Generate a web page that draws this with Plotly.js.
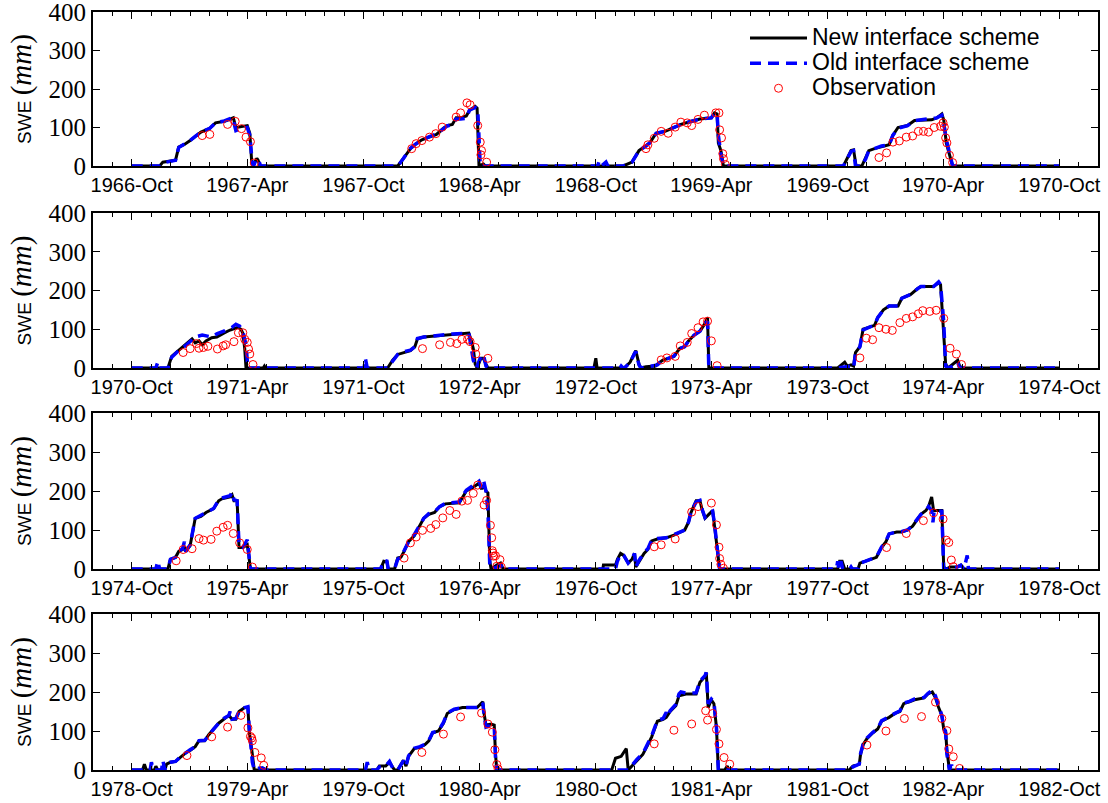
<!DOCTYPE html>
<html><head><meta charset="utf-8">
<script src="https://cdn.plot.ly/plotly-3.0.1.min.js"></script>
<style>html,body{margin:0;padding:0;background:#fff}</style>
</head><body><div id="chart" style="width:1108px;height:803px"></div>
<script>
// ---- DATA (date, SWE mm) ----
const newScheme = [
['1966-10-01',0],['1966-11-14',0],['1966-11-19',10],['1966-12-09',15],['1966-12-14',49],['1966-12-23',56],['1967-01-01',66],['1967-01-09',77],['1967-01-18',88],['1967-02-01',98],['1967-02-10',112],['1967-02-24',116],['1967-03-05',122],['1967-03-10',125],['1967-03-14',100],['1967-03-22',102],['1967-04-01',105],['1967-04-05',85],['1967-04-08',10],['1967-04-10',0],['1967-04-16',20],['1967-04-18',15],['1967-04-21',0],
['1967-11-24',0],['1967-11-28',10],['1967-12-03',20],['1967-12-14',45],['1967-12-23',58],['1968-01-01',68],['1968-01-12',75],['1968-01-24',82],['1968-02-04',98],['1968-02-10',105],['1968-02-18',108],['1968-02-24',125],['1968-03-02',125],['1968-03-11',130],['1968-03-16',145],['1968-03-25',155],['1968-03-28',150],['1968-03-31',0],['1968-04-07',5],['1968-04-10',0],
['1968-11-13',0],['1968-11-27',10],['1968-12-08',40],['1968-12-19',52],['1968-12-25',60],['1969-01-04',85],['1969-01-18',90],['1969-02-01',100],['1969-02-12',108],['1969-02-26',115],['1969-03-14',122],['1969-04-01',125],['1969-04-06',138],['1969-04-10',135],['1969-04-12',60],['1969-04-16',40],['1969-04-20',0],
['1969-10-26',0],['1969-11-07',40],['1969-11-11',42],['1969-11-15',0],['1969-11-24',0],['1969-11-30',20],['1969-12-05',40],['1969-12-14',45],['1969-12-25',50],['1970-01-06',55],['1970-01-12',80],['1970-01-20',100],['1970-02-04',105],['1970-02-15',118],['1970-03-14',120],['1970-03-22',125],['1970-03-30',135],['1970-04-02',120],['1970-04-06',60],['1970-04-12',20],['1970-04-16',0],
['1970-10-01',0],
['1970-11-27',0],['1970-12-03',30],['1970-12-14',45],['1970-12-25',60],['1971-01-04',75],['1971-01-09',65],['1971-01-15',70],['1971-01-20',60],['1971-01-26',70],['1971-02-04',78],['1971-02-12',80],['1971-02-23',90],['1971-03-05',98],['1971-03-17',105],['1971-03-22',100],['1971-03-25',90],['1971-03-28',50],['1971-03-30',0],['1971-04-26',0],['1971-04-28',5],['1971-04-30',0],
['1971-11-08',0],['1971-11-16',20],['1971-11-24',35],['1971-12-03',40],['1971-12-14',45],['1971-12-21',55],['1971-12-25',75],['1972-01-04',80],['1972-01-26',83],['1972-02-18',88],['1972-03-15',90],['1972-03-19',70],['1972-03-22',50],['1972-03-25',10],['1972-03-28',0],['1972-04-03',25],['1972-04-07',25],['1972-04-11',10],['1972-04-14',0],
['1972-09-28',0],['1972-10-01',25],['1972-10-03',0],['1972-11-15',0],['1972-11-24',15],['1972-12-01',40],['1972-12-03',45],['1972-12-08',10],['1972-12-11',0],['1972-12-19',3],['1973-01-03',5],['1973-01-06',10],['1973-01-14',20],['1973-01-23',25],['1973-02-01',30],['1973-02-10',50],['1973-02-18',55],['1973-02-24',70],['1973-03-05',85],['1973-03-14',95],['1973-03-22',115],['1973-03-26',130],['1973-03-28',0],
['1973-10-17',0],['1973-10-28',15],['1973-11-01',5],['1973-11-07',8],['1973-11-11',5],['1973-11-14',40],['1973-11-21',55],['1973-11-26',100],['1973-12-05',105],['1973-12-14',110],['1973-12-19',130],['1973-12-28',150],['1974-01-06',160],['1974-01-20',160],['1974-01-26',180],['1974-02-09',190],['1974-02-20',205],['1974-02-25',210],['1974-03-17',210],['1974-03-25',220],['1974-03-28',215],['1974-04-02',100],['1974-04-05',10],['1974-04-09',0],['1974-04-17',10],['1974-04-24',20],['1974-04-27',5],['1974-05-01',0],
['1974-10-01',0],
['1974-11-27',0],['1974-12-01',25],['1974-12-09',30],['1974-12-14',45],['1974-12-20',50],['1974-12-23',55],['1974-12-25',45],['1975-01-01',60],['1975-01-09',130],['1975-01-18',135],['1975-01-26',145],['1975-02-07',155],['1975-02-15',175],['1975-02-20',180],['1975-03-05',185],['1975-03-08',190],['1975-03-11',175],['1975-03-16',175],['1975-03-19',55],['1975-03-25',55],['1975-04-01',62],['1975-04-03',40],['1975-04-06',0],
['1975-10-28',0],['1975-11-02',20],['1975-11-07',18],['1975-11-09',0],['1975-11-19',0],['1975-11-24',28],['1975-11-29',30],['1975-12-04',45],['1975-12-11',70],['1975-12-20',85],['1975-12-25',100],['1976-01-04',130],['1976-01-12',140],['1976-01-21',145],['1976-01-29',160],['1976-02-07',167],['1976-02-29',170],['1976-03-05',185],['1976-03-11',200],['1976-03-22',210],['1976-03-31',220],['1976-04-04',205],['1976-04-07',215],['1976-04-11',200],['1976-04-14',195],['1976-04-17',20],['1976-04-19',0],['1976-04-28',10],['1976-05-04',15],['1976-05-08',0],
['1976-10-12',0],['1976-10-13',10],['1976-11-01',10],['1976-11-04',25],['1976-11-09',40],['1976-11-14',35],['1976-11-21',15],['1976-11-27',25],['1976-12-01',40],['1976-12-03',5],['1976-12-08',20],['1976-12-16',40],['1976-12-22',50],['1976-12-28',72],['1977-01-06',77],['1977-01-20',80],['1977-02-01',87],['1977-02-10',95],['1977-02-18',100],['1977-02-24',120],['1977-02-28',145],['1977-03-08',175],['1977-03-14',175],['1977-03-17',155],['1977-03-22',130],['1977-03-28',140],['1977-04-03',150],['1977-04-06',110],['1977-04-10',50],['1977-04-12',20],['1977-04-14',0],
['1977-10-17',0],['1977-10-20',20],['1977-10-24',20],['1977-10-28',0],['1977-11-18',0],['1977-11-21',15],['1977-11-30',20],['1977-12-08',25],['1977-12-17',30],['1977-12-25',55],['1978-01-01',70],['1978-01-06',90],['1978-01-18',95],['1978-01-26',95],['1978-02-04',100],['1978-02-12',110],['1978-02-20',130],['1978-02-25',140],['1978-03-05',150],['1978-03-09',160],['1978-03-14',185],['1978-03-17',150],['1978-03-28',150],['1978-03-30',150],['1978-04-02',5],['1978-04-06',0],['1978-04-12',5],['1978-04-23',5],['1978-04-29',10],['1978-05-01',5],['1978-05-04',0],
['1978-10-01',0],
['1978-10-18',0],['1978-10-21',15],['1978-10-24',0],['1978-11-06',0],['1978-11-08',10],['1978-11-11',0],['1978-11-22',0],['1978-11-25',15],['1978-12-01',20],['1978-12-09',22],['1978-12-18',35],['1978-12-26',45],['1979-01-01',50],['1979-01-09',60],['1979-01-15',75],['1979-01-24',75],['1979-01-30',90],['1979-02-07',105],['1979-02-15',120],['1979-02-23',130],['1979-03-03',140],['1979-03-08',130],['1979-03-14',130],['1979-03-19',150],['1979-03-28',160],['1979-04-02',160],['1979-04-04',100],['1979-04-09',40],['1979-04-12',0],['1979-04-20',0],['1979-04-25',5],['1979-05-01',0],
['1979-10-22',0],['1979-10-26',10],['1979-11-05',10],['1979-11-11',20],['1979-11-16',5],['1979-11-19',0],['1979-11-24',0],['1979-12-03',25],['1979-12-07',10],['1979-12-11',35],['1979-12-20',55],['1979-12-29',58],['1980-01-06',65],['1980-01-12',75],['1980-01-18',95],['1980-01-27',100],['1980-02-04',120],['1980-02-10',145],['1980-02-21',155],['1980-03-05',160],['1980-03-28',160],['1980-04-06',175],['1980-04-08',145],['1980-04-11',115],['1980-04-19',118],['1980-04-24',115],['1980-04-26',40],['1980-04-28',0],
['1980-10-26',0],['1980-11-01',30],['1980-11-10',35],['1980-11-15',50],['1980-11-18',55],['1980-11-21',0],['1980-11-27',10],['1980-12-05',25],['1980-12-14',40],['1980-12-22',65],['1980-12-28',85],['1981-01-06',125],['1981-01-15',130],['1981-01-20',135],['1981-01-26',150],['1981-02-04',165],['1981-02-09',190],['1981-02-20',195],['1981-03-08',195],['1981-03-14',225],['1981-03-22',240],['1981-03-24',250],['1981-03-27',160],['1981-04-01',180],['1981-04-05',170],['1981-04-09',110],['1981-04-12',0],['1981-04-22',0],['1981-04-26',10],['1981-04-29',0],
['1981-11-04',0],['1981-11-10',10],['1981-11-20',15],['1981-11-22',40],['1981-11-26',65],['1981-12-02',80],['1981-12-11',95],['1981-12-19',105],['1981-12-25',125],['1982-01-06',135],['1982-01-15',145],['1982-01-23',150],['1982-01-29',170],['1982-02-07',175],['1982-02-15',180],['1982-03-02',185],['1982-03-08',195],['1982-03-15',200],['1982-03-20',185],['1982-03-25',160],['1982-03-30',140],['1982-04-02',105],['1982-04-05',100],['1982-04-07',50],['1982-04-11',0],
['1982-10-01',0]
];

const oldScheme = [
['1966-10-01',0],['1966-11-14',0],['1966-11-19',8],['1966-12-09',15],['1966-12-14',48],['1966-12-23',56],['1967-01-01',66],['1967-01-09',77],['1967-01-18',88],['1967-02-01',98],['1967-02-10',112],['1967-02-24',117],['1967-03-05',123],['1967-03-09',126],['1967-03-14',92],['1967-03-22',98],['1967-04-01',100],['1967-04-05',80],['1967-04-09',5],['1967-04-11',0],['1967-04-15',18],['1967-04-19',15],['1967-04-22',0],
['1967-11-24',0],['1967-11-28',8],['1967-12-03',20],['1967-12-14',46],['1967-12-23',58],['1968-01-01',67],['1968-01-12',76],['1968-01-24',83],['1968-02-04',98],['1968-02-10',104],['1968-02-18',108],['1968-02-24',122],['1968-03-02',122],['1968-03-11',124],['1968-03-16',145],['1968-03-25',152],['1968-03-29',148],['1968-04-02',0],
['1968-10-04',0],['1968-10-06',12],['1968-10-10',0],['1968-10-17',10],['1968-10-20',0],['1968-10-27',8],['1968-10-31',0],['1968-11-13',0],['1968-11-27',10],['1968-12-08',40],['1968-12-19',52],['1968-12-25',60],['1969-01-04',85],['1969-01-18',90],['1969-02-01',100],['1969-02-12',108],['1969-02-26',115],['1969-03-14',122],['1969-04-01',125],['1969-04-06',138],['1969-04-10',136],['1969-04-12',80],['1969-04-16',30],['1969-04-20',0],
['1969-10-26',0],['1969-11-07',38],['1969-11-11',40],['1969-11-14',0],['1969-11-24',0],['1969-11-30',18],['1969-12-05',40],['1969-12-14',45],['1969-12-25',52],['1970-01-06',55],['1970-01-12',80],['1970-01-20',98],['1970-02-04',105],['1970-02-15',118],['1970-03-14',122],['1970-03-22',125],['1970-03-30',132],['1970-04-02',110],['1970-04-06',70],['1970-04-12',25],['1970-04-16',0],
['1970-10-01',0],
['1970-11-08',0],['1970-11-11',15],['1970-11-14',0],['1970-11-27',0],['1970-12-03',28],['1970-12-14',45],['1970-12-25',58],['1971-01-09',80],['1971-01-20',85],['1971-02-04',80],['1971-02-12',88],['1971-02-23',95],['1971-03-08',105],['1971-03-14',113],['1971-03-20',108],['1971-03-25',95],['1971-03-30',60],['1971-04-02',0],
['1971-10-02',0],['1971-10-04',25],['1971-10-07',0],['1971-11-08',0],['1971-11-16',18],['1971-11-24',35],['1971-12-03',42],['1971-12-14',46],['1971-12-21',55],['1971-12-25',76],['1972-01-04',80],['1972-01-26',84],['1972-02-18',88],['1972-03-15',90],['1972-03-18',60],['1972-03-22',20],['1972-03-27',0],['1972-04-03',30],['1972-04-07',35],['1972-04-11',5],['1972-04-14',0],
['1972-11-08',0],['1972-11-10',5],['1972-11-13',0],['1972-11-15',0],['1972-11-24',14],['1972-12-01',38],['1972-12-03',43],['1972-12-08',8],['1972-12-11',0],['1973-01-06',8],['1973-01-14',20],['1973-01-23',25],['1973-02-01',30],['1973-02-10',50],['1973-02-18',55],['1973-02-24',70],['1973-03-05',85],['1973-03-14',95],['1973-03-22',115],['1973-03-26',120],['1973-03-28',0],
['1973-10-17',0],['1973-11-07',5],['1973-11-11',0],['1973-11-14',38],['1973-11-21',55],['1973-11-26',98],['1973-12-05',105],['1973-12-14',110],['1973-12-19',130],['1973-12-28',150],['1974-01-06',160],['1974-01-20',160],['1974-01-26',180],['1974-02-09',190],['1974-02-20',205],['1974-02-25',210],['1974-03-17',210],['1974-03-25',222],['1974-03-28',215],['1974-04-02',120],['1974-04-05',5],['1974-04-09',0],['1974-04-17',5],['1974-04-24',15],['1974-04-27',0],
['1974-10-01',0],
['1974-11-08',0],['1974-11-11',20],['1974-11-14',0],['1974-11-27',0],['1974-12-01',25],['1974-12-09',30],['1974-12-14',45],['1974-12-20',52],['1974-12-23',70],['1974-12-25',45],['1975-01-01',62],['1975-01-09',130],['1975-01-18',137],['1975-01-26',145],['1975-02-07',155],['1975-02-15',177],['1975-02-20',182],['1975-03-05',188],['1975-03-08',197],['1975-03-11',178],['1975-03-16',175],['1975-03-19',60],['1975-03-25',55],['1975-04-01',75],['1975-04-03',40],['1975-04-06',0],
['1975-10-28',0],['1975-11-02',22],['1975-11-07',20],['1975-11-09',0],['1975-11-19',0],['1975-11-24',25],['1975-11-29',30],['1975-12-04',48],['1975-12-11',70],['1975-12-20',88],['1975-12-25',102],['1976-01-04',130],['1976-01-12',142],['1976-01-21',147],['1976-01-29',160],['1976-02-07',168],['1976-02-29',172],['1976-03-05',188],['1976-03-11',202],['1976-03-22',215],['1976-03-31',225],['1976-04-04',208],['1976-04-07',228],['1976-04-11',200],['1976-04-14',150],['1976-04-17',10],['1976-04-19',0],['1976-04-28',5],['1976-05-04',10],['1976-05-08',0],
['1976-11-01',0],['1976-11-04',20],['1976-11-09',38],['1976-11-14',35],['1976-11-21',15],['1976-11-27',25],['1976-12-01',40],['1976-12-03',5],['1976-12-08',22],['1976-12-16',42],['1976-12-22',52],['1976-12-28',74],['1977-01-06',78],['1977-01-20',80],['1977-02-01',88],['1977-02-10',96],['1977-02-18',100],['1977-02-24',120],['1977-02-28',147],['1977-03-08',172],['1977-03-14',176],['1977-03-17',155],['1977-03-22',132],['1977-03-28',142],['1977-04-03',148],['1977-04-06',115],['1977-04-10',60],['1977-04-12',15],['1977-04-14',0],
['1977-10-15',0],['1977-10-17',20],['1977-10-19',0],['1977-10-22',20],['1977-10-25',0],['1977-11-05',0],['1977-11-07',5],['1977-11-09',0],['1977-11-18',0],['1977-11-21',15],['1977-11-30',20],['1977-12-08',26],['1977-12-17',31],['1977-12-25',56],['1978-01-01',72],['1978-01-06',90],['1978-01-18',95],['1978-01-26',96],['1978-02-04',100],['1978-02-12',112],['1978-02-20',130],['1978-02-25',140],['1978-03-05',150],['1978-03-09',160],['1978-03-14',150],['1978-03-16',120],['1978-03-18',150],['1978-03-28',150],['1978-03-30',148],['1978-04-02',0],['1978-04-12',0],['1978-04-23',5],['1978-04-29',10],['1978-05-04',0],['1978-05-09',35],['1978-05-11',0],
['1978-10-01',0],
['1978-10-30',0],['1978-11-01',20],['1978-11-04',0],['1978-11-17',0],['1978-11-19',25],['1978-11-22',0],['1978-11-25',15],['1978-12-01',20],['1978-12-09',22],['1978-12-18',36],['1978-12-26',46],['1979-01-01',52],['1979-01-09',60],['1979-01-15',75],['1979-01-24',76],['1979-01-30',90],['1979-02-07',105],['1979-02-15',120],['1979-02-23',132],['1979-03-03',140],['1979-03-05',150],['1979-03-08',130],['1979-03-14',132],['1979-03-19',150],['1979-03-28',160],['1979-04-02',162],['1979-04-04',110],['1979-04-09',20],['1979-04-12',0],['1979-04-20',5],['1979-04-25',5],['1979-05-01',0],
['1979-10-04',0],['1979-10-07',20],['1979-10-10',0],['1979-10-22',0],['1979-10-26',8],['1979-11-05',10],['1979-11-11',22],['1979-11-16',5],['1979-11-19',0],['1979-11-24',0],['1979-12-03',24],['1979-12-07',10],['1979-12-11',36],['1979-12-20',56],['1979-12-29',60],['1980-01-06',66],['1980-01-12',76],['1980-01-18',96],['1980-01-27',100],['1980-02-04',122],['1980-02-10',146],['1980-02-21',156],['1980-03-05',160],['1980-03-28',160],['1980-04-06',172],['1980-04-08',140],['1980-04-11',110],['1980-04-19',115],['1980-04-24',112],['1980-04-26',30],['1980-04-28',0],
['1980-11-21',0],['1980-11-27',12],['1980-12-05',28],['1980-12-14',42],['1980-12-22',68],['1980-12-28',88],['1981-01-06',127],['1981-01-15',132],['1981-01-20',148],['1981-01-22',138],['1981-01-26',152],['1981-02-04',168],['1981-02-09',195],['1981-02-12',200],['1981-02-20',197],['1981-03-08',198],['1981-03-14',228],['1981-03-22',242],['1981-03-24',250],['1981-03-27',170],['1981-04-01',182],['1981-04-05',175],['1981-04-09',110],['1981-04-12',0],
['1981-11-04',0],['1981-11-10',8],['1981-11-20',15],['1981-11-22',42],['1981-11-26',66],['1981-12-02',82],['1981-12-11',96],['1981-12-19',106],['1981-12-25',126],['1982-01-06',136],['1982-01-15',146],['1982-01-23',152],['1982-01-29',172],['1982-02-07',176],['1982-02-15',182],['1982-03-02',186],['1982-03-08',196],['1982-03-15',205],['1982-03-20',190],['1982-03-25',162],['1982-03-30',140],['1982-04-02',110],['1982-04-05',95],['1982-04-07',40],['1982-04-11',0],['1982-04-13',10],['1982-04-15',10],['1982-04-17',0],
['1982-10-01',0]
];

const observation = [
['1967-01-20',79],['1967-02-01',82],['1967-03-01',108],['1967-03-13',116],['1967-03-23',97],['1967-03-30',75],['1967-04-06',63],['1967-04-12',8],
['1967-12-16',45],['1967-12-23',58],['1968-01-01',66],['1968-01-13',75],['1968-01-23',84],['1968-02-02',101],['1968-02-24',127],['1968-03-02',138],['1968-03-12',164],['1968-03-17',159],['1968-03-29',105],['1968-04-02',62],['1968-04-03',29],['1968-04-04',40],['1968-04-12',10],
['1968-12-19',45],['1968-12-22',55],['1969-01-01',72],['1969-01-12',90],['1969-01-23',85],['1969-02-03',101],['1969-02-12',114],['1969-02-22',112],['1969-03-01',105],['1969-03-11',121],['1969-03-21',132],['1969-04-08',138],['1969-04-13',138],['1969-04-14',94],['1969-04-17',73],['1969-04-19',32],['1969-04-20',19],['1969-04-23',4],
['1969-12-21',22],['1970-01-02',34],['1970-01-12',62],['1970-01-22',65],['1970-02-02',75],['1970-02-12',78],['1970-02-21',90],['1970-03-01',90],['1970-03-09',88],['1970-03-18',100],['1970-03-28',103],['1970-04-01',112],['1970-04-03',101],['1970-04-05',73],['1970-04-07',60],['1970-04-11',28],['1970-04-16',9],
['1970-12-21',40],['1971-01-01',50],['1971-01-11',63],['1971-01-15',51],['1971-01-22',53],['1971-01-29',56],['1971-02-13',49],['1971-02-22',57],['1971-02-26',60],['1971-03-11',68],['1971-03-18',91],['1971-03-25',91],['1971-03-28',74],['1971-04-01',66],['1971-04-03',49],['1971-04-05',36],['1971-04-10',9],
['1972-01-02',50],['1972-01-29',60],['1972-02-15',66],['1972-02-25',63],['1972-03-04',74],['1972-03-13',74],['1972-03-17',68],['1972-03-25',53],['1972-03-26',36],['1972-04-14',25],
['1973-01-12',21],['1973-01-21',26],['1973-02-03',30],['1973-02-11',57],['1973-02-22',66],['1973-03-01',89],['1973-03-11',104],['1973-03-19',119],['1973-03-26',121],['1973-04-01',70],['1973-04-10',6],
['1973-11-21',26],['1973-12-01',77],['1973-12-11',73],['1973-12-21',104],['1974-01-01',100],['1974-01-11',97],['1974-01-23',117],['1974-02-02',128],['1974-02-12',132],['1974-02-21',140],['1974-02-28',148],['1974-03-11',146],['1974-03-21',149],['1974-04-02',128],['1974-04-12',51],['1974-04-22',36],['1974-04-30',9],
['1974-12-10',21],['1974-12-21',50],['1975-01-04',52],['1975-01-15',78],['1975-01-22',74],['1975-02-03',76],['1975-02-12',97],['1975-02-22',107],['1975-03-01',112],['1975-03-10',91],['1975-03-20',67],['1975-04-01',50],['1975-04-09',5],
['1975-12-04',28],['1975-12-14',67],['1975-12-23',82],['1976-01-02',99],['1976-01-15',104],['1976-01-23',114],['1976-02-03',131],['1976-02-14',150],['1976-02-24',140],['1976-03-04',174],['1976-03-13',176],['1976-03-22',194],['1976-03-29',215],['1976-04-08',164],['1976-04-12',176],['1976-04-18',112],['1976-04-20',80],['1976-04-21',47],['1976-04-22',41],['1976-04-23',33],['1976-04-26',34],['1976-04-28',7],['1976-05-03',24],['1976-05-05',5],
['1977-01-01',57],['1977-01-12',62],['1977-02-03',77],['1977-03-01',146],['1977-03-11',160],['1977-04-01',169],['1977-04-09',113],['1977-04-13',56],['1977-04-14',27],['1977-04-16',12],['1977-04-20',2],
['1978-01-02',55],['1978-02-02',91],['1978-03-01',124],['1978-03-17',144],['1978-04-01',128],['1978-04-06',74],['1978-04-10',68],['1978-04-14',23],['1978-04-17',6],
['1978-12-27',37],['1979-02-04',85],['1979-03-01',110],['1979-03-22',140],['1979-04-02',108],['1979-04-06',86],['1979-04-08',82],['1979-04-09',75],['1979-04-13',45],['1979-04-23',31],['1979-04-27',12],
['1980-01-01',45],['1980-02-04',92],['1980-03-02',136],['1980-04-04',146],['1980-04-14',118],['1980-04-21',97],['1980-04-25',52],['1980-04-28',14],['1980-04-30',3],
['1981-01-01',67],['1981-02-01',102],['1981-03-01',118],['1981-03-23',152],['1981-03-26',128],['1981-04-03',145],['1981-04-09',104],['1981-04-13',67],['1981-04-21',32],['1981-04-30',15],
['1981-12-02',64],['1982-01-01',100],['1982-01-30',132],['1982-02-26',137],['1982-03-20',174],['1982-03-30',132],['1982-04-07',101],['1982-04-10',54],['1982-04-17',34],['1982-04-27',4]
];

const panelStarts = ['1966-10-01','1970-10-01','1974-10-01','1978-10-01','1982-10-01'];
const startYears = [1966, 1970, 1974, 1978];
const yTickVals = [0, 100, 200, 300, 400];
const seriesNames = ['New interface scheme', 'Old interface scheme', 'Observation'];

// ---- BUILD ----
const plotTop = 12, plotBottom = 770, totalH = plotBottom - plotTop;
const panelPx = [[12,166],[213,368],[413,569],[614,770]];
const SANS = 'Liberation Sans, Arial, sans-serif';
const SERIF = 'Liberation Serif, DejaVu Serif, serif';
const traces = [];
const layout = {
  width: 1108, height: 803,
  margin: {l: 93, r: 10, t: 12, b: 33},
  paper_bgcolor: '#fff', plot_bgcolor: '#fff',
  showlegend: true,
  legend: {x: (745 - 93) / 1005, xanchor: 'left', y: (plotBottom - 20.5) / totalH, yanchor: 'top',
           bgcolor: 'rgba(0,0,0,0)', itemwidth: 57, tracegroupgap: 0,
           font: {family: SANS, size: 17, color: '#000'}},
  font: {family: SANS, color: '#000'}
};

function sel(arr, a, b) { return arr.filter(d => d[0] >= a && d[0] <= b); }
const big = s => '<span style="font-size:23px">' + s + '</span>';

for (let p = 0; p < 4; p++) {
  const a = panelStarts[p], b = panelStarts[p + 1];
  const xa = p === 0 ? 'x' : 'x' + (p + 1);
  const ya = p === 0 ? 'y' : 'y' + (p + 1);
  const nw = sel(newScheme, a, b), od = sel(oldScheme, a, b), ob = sel(observation, a, b);
  traces.push({x: nw.map(d => d[0]), y: nw.map(d => d[1]), xaxis: xa, yaxis: ya,
    type: 'scatter', mode: 'lines', name: big(seriesNames[0]), showlegend: p === 0, legendgroup: 'n',
    line: {color: '#000', width: 3}});
  traces.push({x: od.map(d => d[0]), y: od.map(d => d[1]), xaxis: xa, yaxis: ya,
    type: 'scatter', mode: 'lines', name: big(seriesNames[1]), showlegend: p === 0, legendgroup: 'o',
    line: {color: '#0000ff', width: 3.5, dash: '11px,7px'}});
  traces.push({x: ob.map(d => d[0]), y: ob.map(d => d[1]), xaxis: xa, yaxis: ya,
    type: 'scatter', mode: 'markers', name: big(seriesNames[2]), showlegend: p === 0, legendgroup: 'b',
    marker: {symbol: 'circle-open', size: 8, color: '#ff0000', line: {width: 1, color: '#ff0000'}}});

  const y0 = startYears[p];
  const [pt, pb] = panelPx[p];
  const kx = p === 0 ? 'xaxis' : 'xaxis' + (p + 1);
  const ky = p === 0 ? 'yaxis' : 'yaxis' + (p + 1);
  layout[kx] = {
    type: 'date', anchor: ya,
    range: [y0 + '-08-01', (y0 + 4) + '-12-01'],
    tick0: y0 + '-10-01', dtick: 'M6', tickformat: '%Y-%b',
    ticks: 'inside', ticklen: 7, tickwidth: 1, tickcolor: '#000',
    minor: {dtick: 'M1', tick0: y0 + '-10-01', ticks: 'inside', ticklen: 4, tickwidth: 1, tickcolor: '#000', showgrid: false},
    showline: true, linewidth: 2, linecolor: '#000', mirror: 'ticks',
    showgrid: false, zeroline: false,
    tickfont: {family: SANS, size: 20, color: '#000'}
  };
  layout[ky] = {
    domain: [(plotBottom - pb) / totalH, (plotBottom - pt) / totalH],
    anchor: xa, range: [0, 400], tickvals: yTickVals,
    ticks: 'inside', ticklen: 7, tickwidth: 1, tickcolor: '#000',
    ticklabeloverflow: 'allow',
    showline: true, linewidth: 2, linecolor: '#000', mirror: 'ticks',
    showgrid: false, zeroline: false,
    tickfont: {family: SERIF, size: 25, color: '#000'},
    title: {text: 'SWE <span style="font-family:Liberation Serif;font-size:29px">(<i>mm</i>)</span>', standoff: 12,
            font: {family: SANS, size: 19, color: '#000'}}
  };
}

Plotly.newPlot('chart', traces, layout, {displayModeBar: false, staticPlot: true});
</script>
</body></html>
